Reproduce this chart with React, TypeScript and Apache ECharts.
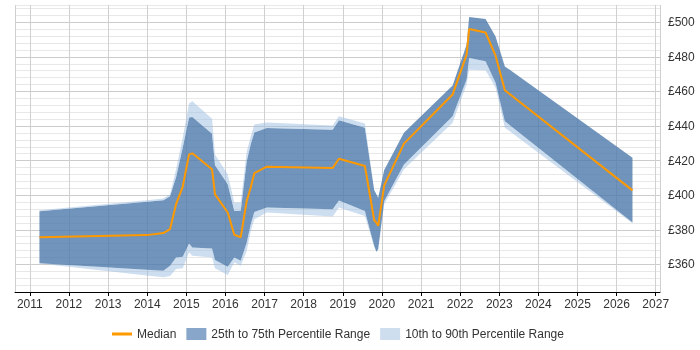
import React, { useEffect, useRef } from 'react';
import * as echarts from 'echarts';

// Sample dates as decimal years
const years = [
  2011.245, 2013.989, 2014.413, 2014.584, 2014.738, 2014.909, 2015.07, 2015.154,
  2015.658, 2015.734, 2016.059, 2016.227, 2016.391, 2016.544, 2016.646, 2016.738,
  2017.055, 2018.741, 2018.902, 2019.566, 2019.804, 2019.86, 2019.906, 2020.06,
  2020.563, 2021.807, 2022.165, 2022.231, 2022.65, 2022.906, 2023.144, 2026.406,
];

const median = [
  375.7, 376.9, 378.1, 380.4, 394.8, 405.0, 423.6, 424.2, 415.0, 400.5, 390.0, 377.1,
  375.7, 396.7, 404.4, 412.7, 416.5, 415.7, 421.1, 416.9, 385.5, 384.1, 382.3, 405.7,
  429.8, 458.2, 481.3, 496.1, 494.1, 480.7, 460.7, 402.8,
];

const p75 = [
  390.7, 396.2, 397.1, 399.4, 410.3, 427.6, 445.0, 445.2, 435.5, 417.3, 406.3, 390.9,
  391.0, 419.6, 429.4, 436.3, 438.8, 437.9, 443.4, 439.0, 402.8, 400.5, 398.5, 414.6,
  436.1, 463.4, 487.0, 503.0, 501.9, 491.8, 474.5, 421.7,
];

const p90 = [
  391.3, 397.1, 398.1, 400.5, 415.0, 433.4, 453.0, 454.3, 444.2, 423.6, 412.1, 395.8,
  395.8, 425.3, 434.0, 440.9, 442.1, 440.3, 445.7, 441.5, 402.8, 400.5, 398.5, 414.6,
  436.1, 463.4, 487.0, 503.0, 501.9, 491.8, 474.5, 421.7,
];

const p25 = [
  360.7, 356.9, 356.3, 359.2, 364.0, 364.4, 372.1, 369.8, 369.2, 362.5, 358.6, 364.0,
  362.1, 372.7, 383.2, 390.2, 392.9, 391.9, 396.9, 390.9, 370.7, 367.3, 368.8, 396.7,
  417.8, 445.7, 466.9, 479.4, 477.4, 465.0, 442.8, 384.2,
];

const p10 = [
  360.5, 353.5, 352.5, 353.3, 357.3, 357.7, 366.9, 365.0, 364.0, 357.7, 353.8, 361.2,
  359.2, 367.8, 379.2, 386.1, 390.0, 387.7, 392.9, 388.0, 370.0, 367.1, 368.5, 394.8,
  415.0, 441.9, 464.0, 472.6, 472.2, 462.1, 439.0, 383.8,
];

const MEDIAN = 'Median';
const IQR = '25th to 75th Percentile Range';
const WIDE = '10th to 90th Percentile Range';

const DAY = 24 * 3600 * 1000;

function toTime(y: number): number {
  const yr = Math.floor(y);
  const start = Date.UTC(yr, 0, 1);
  const end = Date.UTC(yr + 1, 0, 1);
  return start + (y - yr) * (end - start);
}

const xs = years.map(toTime);
const pairs = (vals: number[]) => vals.map((v, i) => [xs[i], +v.toFixed(2)]);
const diff = (a: number[], b: number[]) => a.map((v, i) => v - b[i]);

const FONT = '"Liberation Sans", Arial, sans-serif';
const ORANGE = '#ff9900';
const darkFill = 'rgba(76,121,170,0.8)';
const lightFill = 'rgba(155,190,225,0.5)';
const darkKey = '#87a6c9';
const lightKey = '#cfdeef';

function bandSeries(name: string, values: number[], fill: string | null, legendColor: string) {
  return {
    name,
    type: 'line',
    stack: 'band',
    data: pairs(values),
    symbol: 'none',
    showSymbol: false,
    silent: true,
    lineStyle: { width: 0, opacity: 0 },
    itemStyle: { color: legendColor },
    areaStyle: fill ? { color: fill, opacity: 1 } : undefined,
    z: 2,
  };
}

export default function App() {
  const ref = useRef<HTMLDivElement>(null);

  useEffect(() => {
    const chart = echarts.init(ref.current!, null, { renderer: 'svg' });
    chart.setOption({
      animation: false,
      useUTC: true,
      textStyle: { fontFamily: FONT },
      grid: { left: 15, right: 40, top: 5, bottom: 58 },
      legend: {
        left: 112,
        top: 328,
        padding: 0,
        itemWidth: 20,
        itemHeight: 12,
        itemGap: 10,
        textStyle: { fontSize: 12, color: '#333', fontFamily: FONT },
        data: [
          {
            name: MEDIAN,
            icon: 'path://M0,0 L20,0 L20,3 L0,3 Z',
            itemStyle: { color: ORANGE },
          },
          { name: IQR, icon: 'rect', itemStyle: { color: darkKey } },
          { name: WIDE, icon: 'rect', itemStyle: { color: lightKey } },
        ],
      },
      xAxis: {
        type: 'time',
        min: toTime(2010.62),
        max: toTime(2027.11),
        minInterval: 365 * DAY,
        maxInterval: 366 * DAY,
        splitNumber: 16,
        axisLine: { show: true, lineStyle: { color: '#000', width: 1 } },
        axisTick: { show: true, length: 4, lineStyle: { color: '#000' } },
        axisLabel: {
          formatter: '{yyyy}',
          color: '#333',
          fontSize: 12,
          margin: 6,
          showMinLabel: false,
          showMaxLabel: false,
          fontFamily: FONT,
        },
        splitLine: { show: true, lineStyle: { color: '#d0d0d0', width: 1 } },
      },
      yAxis: {
        type: 'value',
        position: 'right',
        min: 344,
        max: 510,
        interval: 4,
        axisLine: { show: false },
        axisTick: { show: false },
        axisLabel: {
          color: '#333',
          fontSize: 12,
          margin: 8,
          fontFamily: FONT,
          formatter: (v: number) => {
            const r = Math.round(v);
            return r % 20 === 0 ? '£' + r : '';
          },
        },
        splitLine: {
          show: true,
          lineStyle: {
            color: ['#e8e8e8', '#e8e8e8', '#e8e8e8', '#e8e8e8', '#cccccc'],
            width: 1,
          },
        },
      },
      series: [
        bandSeries('p10', p10, null, lightKey),
        bandSeries(WIDE, diff(p25, p10), lightFill, lightKey),
        bandSeries(IQR, diff(p75, p25), darkFill, darkKey),
        bandSeries(WIDE, diff(p90, p75), lightFill, lightKey),
        {
          name: MEDIAN,
          type: 'line',
          data: pairs(median),
          symbol: 'none',
          showSymbol: false,
          silent: true,
          lineStyle: { color: ORANGE, width: 2 },
          itemStyle: { color: ORANGE },
          z: 3,
        },
      ],
    });
    return () => chart.dispose();
  }, []);

  return (
    <div
      ref={ref}
      style={{ position: 'fixed', left: 0, top: 0, width: 700, height: 350 }}
    />
  );
}
